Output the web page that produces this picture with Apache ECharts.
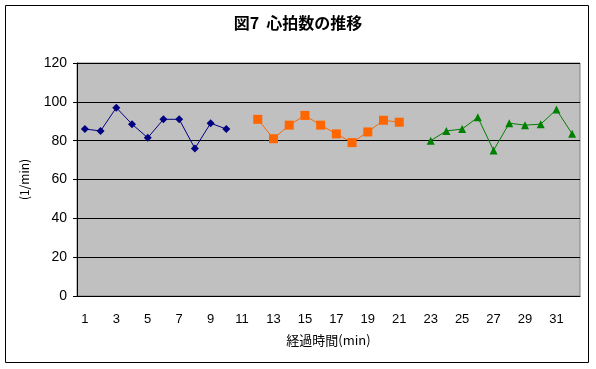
<!DOCTYPE html>
<html>
<head>
<meta charset="utf-8">
<script src="https://cdn.jsdelivr.net/npm/echarts@6/dist/echarts.min.js"></script>
<style>
html,body{margin:0;padding:0;background:#fff;}
#c{width:596px;height:369px;}
</style>
</head>
<body>
<div id="c"></div>
<script>
const categories = ["1","2","3","4","5","6","7","8","9","10","11","12","13","14","15","16","17","18","19","20","21","22","23","24","25","26","27","28","29","30","31","32"];
const seriesA = [86, 85, 97, 88.5, 81.5, 91, 91, 76, 89, 86];            // minutes 1-10
const seriesB = [91, 81, 88, 93, 88, 83.5, 79, 84.5, 90.5, 89.5];        // minutes 12-21
const seriesC = [80, 85, 86, 92, 75, 89, 88, 88.5, 96, 83.5];            // minutes 23-32
const startA = 1, startB = 12, startC = 23;
const yTicks = [0, 20, 40, 60, 80, 100, 120];

function place(values, start) {
  const out = categories.map(() => null);
  values.forEach((v, i) => { out[start - 1 + i] = v; });
  return out;
}

const chart = echarts.init(document.getElementById('c'));
const font = 'Liberation Sans, Arial, sans-serif';
const cjk = '"Noto Sans CJK JP", sans-serif';

chart.setOption({
  animation: false,
  backgroundColor: '#ffffff',
  title: {
    text: '図7  心拍数の推移',
    left: 'center',
    top: 10,
    textStyle: { fontFamily: cjk, fontSize: 16, fontWeight: 'bold', color: '#000' }
  },
  graphic: [
    { type: 'rect', shape: { x: 5.5, y: 5.5, width: 583, height: 357 },
      style: { fill: 'none', stroke: '#000', lineWidth: 1 }, z: -1 }
  ],
  grid: { left: 77, right: 16, top: 63, bottom: 73, show: true,
          backgroundColor: '#C0C0C0', borderColor: '#808080', borderWidth: 1 },
  xAxis: {
    type: 'category',
    data: categories,
    boundaryGap: true,
    name: '経過時間(min)',
    nameLocation: 'middle',
    nameGap: 38,
    nameTextStyle: { fontFamily: cjk, fontSize: 13, color: '#000' },
    axisLine: { lineStyle: { color: '#000', width: 1 } },
    axisTick: { inside: true, length: 4, interval: 0, lineStyle: { color: '#000' } },
    axisLabel: { interval: 1, margin: 17, fontFamily: font, fontSize: 13, color: '#000' },
    splitLine: { show: false }
  },
  yAxis: {
    type: 'value',
    min: yTicks[0],
    max: yTicks[yTicks.length - 1],
    interval: 20,
    name: '(1/min)',
    nameLocation: 'middle',
    nameGap: 47,
    nameRotate: 90,
    nameTextStyle: { fontFamily: cjk, fontSize: 12, color: '#000' },
    axisLine: { show: true, lineStyle: { color: '#000', width: 1 } },
    axisTick: { show: true, length: 4, lineStyle: { color: '#000' } },
    axisLabel: { margin: 10, fontFamily: font, fontSize: 14, color: '#000' },
    splitLine: { show: true, lineStyle: { color: '#000', width: 1 } }
  },
  series: [
    { type: 'line', data: place(seriesA, startA), connectNulls: false,
      symbol: 'diamond', symbolSize: 8,
      lineStyle: { color: '#000080', width: 1 }, itemStyle: { color: '#000080' } },
    { type: 'line', data: place(seriesB, startB), connectNulls: false,
      symbol: 'rect', symbolSize: 9,
      lineStyle: { color: '#FF6600', width: 1 }, itemStyle: { color: '#FF6600' } },
    { type: 'line', data: place(seriesC, startC), connectNulls: false,
      symbol: 'triangle', symbolSize: 8,
      lineStyle: { color: '#008000', width: 1 }, itemStyle: { color: '#008000' } }
  ]
});
</script>
</body>
</html>
